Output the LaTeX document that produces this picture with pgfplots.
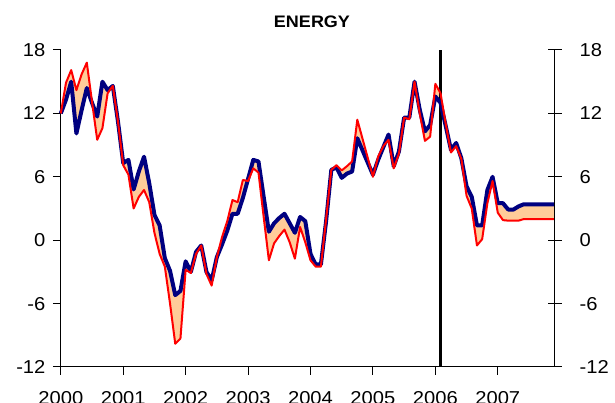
\documentclass[border=0pt]{standalone}
\usepackage{fontspec}
\setmainfont{Liberation Sans}[FakeStretch=1.08]
\usepackage{pgfplots}
\usepackage{pgfplotstable}
\pgfplotsset{compat=1.18}
\usepgfplotslibrary{fillbetween}
\definecolor{navy}{HTML}{000080}
\definecolor{peach}{HTML}{FFCC99}
\pgfplotstableread{
m B R
0 12.0 12.0
1 13.3 14.9
2 15.0 16.1
3 10.1 14.2
4 12.3 15.7
5 14.4 16.8
6 13.0 13.1
7 11.7 9.5
8 15.0 10.6
9 14.2 13.9
10 14.6 14.6
11 11.2 11.2
12 7.3 7.1
13 7.6 6.2
14 4.8 3.0
15 6.5 4.1
16 7.9 4.75
17 5.4 3.6
18 2.4 0.7
19 1.4 -1.3
20 -1.7 -2.5
21 -2.9 -6.0
22 -5.2 -9.8
23 -4.8 -9.3
24 -2.0 -2.8
25 -3.0 -3.1
26 -1.1 -1.3
27 -0.5 -0.5
28 -3.0 -3.2
29 -3.8 -4.3
30 -1.6 -1.6
31 -0.4 0.3
32 0.9 1.8
33 2.5 3.8
34 2.5 3.6
35 4.0 5.7
36 5.8 5.6
37 7.6 6.8
38 7.45 6.4
39 4.1 2.2
40 0.8 -1.9
41 1.6 -0.3
42 2.1 0.4
43 2.5 1.0
44 1.6 -0.2
45 0.7 -1.75
46 2.2 1.25
47 1.8 -0.2
48 -1.3 -1.9
49 -2.3 -2.5
50 -2.3 -2.5
51 1.8 2.0
52 6.65 6.65
53 6.9 7.1
54 5.9 6.6
55 6.3 7.0
56 6.5 7.45
57 9.65 11.4
58 8.5 9.6
59 7.35 7.8
60 6.2 6.0
61 7.6 7.9
62 8.8 8.9
63 10.0 9.5
64 7.0 6.8
65 8.4 8.2
66 11.6 11.6
67 11.6 11.45
68 15.0 15.0
69 12.35 12.0
70 10.3 9.4
71 10.9 9.8
72 13.6 14.8
73 13.0 13.9
74 10.8 11.0
75 8.55 8.3
76 9.2 8.9
77 7.75 7.7
78 5.1 4.2
79 4.1 3.0
80 1.4 -0.5
81 1.4 0.1
82 4.75 3.5
83 6.0 5.6
84 3.5 2.6
85 3.5 1.9
86 2.9 1.85
87 2.9 1.85
88 3.2 1.85
89 3.4 2.0
90 3.4 2.0
91 3.4 2.0
92 3.4 2.0
93 3.4 2.0
94 3.4 2.0
95 3.4 2.0
}\energy
\begin{document}
\begin{tikzpicture}
\pgfplotsset{
  common/.style={
    scale only axis, width=370.65pt, height=237.75pt,
    xmin=0, xmax=95, ymin=-12, ymax=18,
    ytick={-12,-6,...,18},
    ticklabel style={font=\fontsize{14}{16}\selectfont},
    /pgf/number format/assume math mode=true,
    axis line style={black, line width=0.75pt},
    tick style={black, line width=0.75pt},
  }
}
\begin{axis}[common, name=main,
  axis x line*=bottom, axis y line*=left,
  xtick={0,12,...,84},
  xticklabels={2000,2001,2002,2003,2004,2005,2006,2007},
  xtick align=outside, ytick align=outside,
  major tick length=6pt,
  xticklabel style={yshift=-8.75pt},
  yticklabel style={xshift=-2pt},
  clip=false,
]
\addplot[draw=none, name path=B] table[x=m, y=B] {\energy};
\addplot[draw=none, name path=R] table[x=m, y=R] {\energy};
\addplot[fill=peach, draw=none] fill between[of=B and R];
\draw[black, line width=2.25pt] (axis cs:73,-12) -- (axis cs:73,18);
\addplot[navy, line width=3pt, line join=round] table[x=m, y=B] {\energy};
\addplot[red, line width=1.5pt, line join=round] table[x=m, y=R] {\energy};
\end{axis}
\begin{axis}[common, at={(main.south west)}, anchor=south west,
  axis x line=none, axis y line*=right,
  ytick align=center, major tick length=10pt,
  yticklabel style={xshift=10pt},
]
\addplot[draw=none] coordinates {(0,0)};
\end{axis}
\coordinate (O) at ([xshift=-45.6pt, yshift=-27pt]main.south west);
\node[font=\bfseries\fontsize{12.5}{14}\selectfont] at ([xshift=234pt, yshift=285.75pt]O) {ENERGY};
\pgfresetboundingbox
\useasboundingbox (O) rectangle ([xshift=461.25pt, yshift=302.25pt]O);
\end{tikzpicture}
\end{document}
